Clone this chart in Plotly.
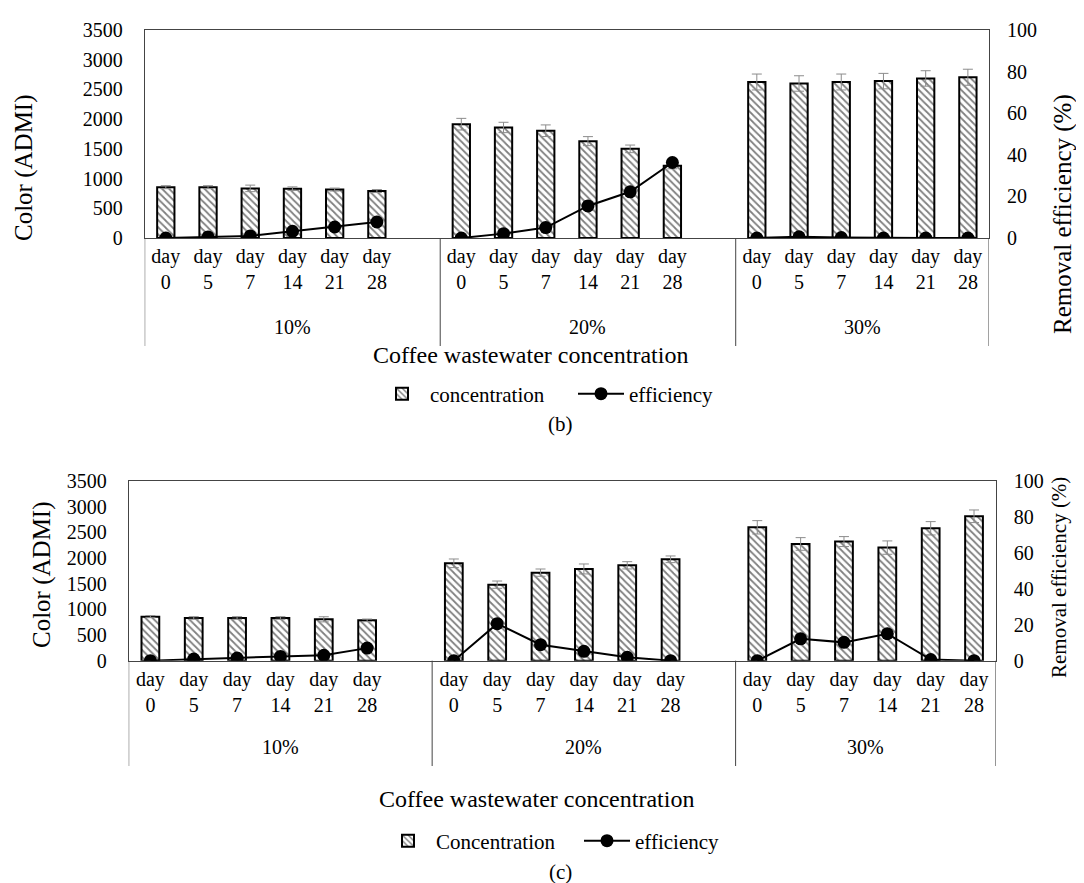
import plotly.graph_objects as go

W, H = 1084, 883
FONT = "Liberation Serif, Times New Roman, DejaVu Serif, serif"

groups = ["10%", "20%", "30%"]
days = ["0", "5", "7", "14", "21", "28"]

# ---- panel (b) ----
conc_b_10 = [855, 855, 835, 830, 815, 790]
conc_b_20 = [1915, 1860, 1805, 1630, 1500, 1215]
conc_b_30 = [2625, 2600, 2625, 2640, 2685, 2705]
err_b_10 = [25, 25, 55, 30, 25, 25]
err_b_20 = [98, 87, 98, 76, 64, 50]
err_b_30 = [134, 130, 134, 130, 130, 135]
eff_b_10 = [0, 0.5, 1.0, 3.2, 5.3, 7.7]
eff_b_20 = [0, 2.1, 5.0, 15.4, 22.2, 36.3]
eff_b_30 = [0, 0.6, 0.2, 0, 0, 0]

# ---- panel (c) ----
conc_c_10 = [858, 832, 832, 832, 806, 786]
conc_c_20 = [1897, 1481, 1715, 1787, 1858, 1975]
conc_c_30 = [2598, 2274, 2320, 2203, 2579, 2813]
err_c_10 = [20, 25, 25, 25, 50, 25]
err_c_20 = [84, 71, 71, 97, 71, 65]
err_c_30 = [130, 123, 97, 130, 130, 123]
eff_c_10 = [0, 0.9, 1.5, 2.4, 3.0, 7.0]
eff_c_20 = [0, 20.6, 8.9, 5.2, 1.9, 0]
eff_c_30 = [0, 12.2, 10.2, 15.0, 0.6, 0]

y_ticks_left = [0, 500, 1000, 1500, 2000, 2500, 3000, 3500]
y_ticks_right = [0, 20, 40, 60, 80, 100]


def px_x(p):
    return p / W


def px_y(p):
    return 1 - p / H


fig = go.Figure()

slot = len(days) + 1  # each group followed by one empty category (except last)

xs = [g * slot + i for g in range(len(groups)) for i in range(len(days))]
n_slots = (len(groups) - 1) * slot + len(days)
ticktext = ["day<br>" + d for d in days] * len(groups)

panels = [
    dict(conc=[conc_b_10, conc_b_20, conc_b_30], err=[err_b_10, err_b_20, err_b_30],
         eff=[eff_b_10, eff_b_20, eff_b_30], names=("concentration", "efficiency"),
         xa="x", ya="y", ya2="y2", leg="legend",
         xdom=(136.7, 981), ydom=(22, 230), div_bottom=338, grp_y=319,
         xtitle=(522, 347), ltitle=(16, 160, 25), rtitle=(1055, 206, 25),
         letter="(b)", letter_pos=(552, 416), legend_pos=(366, 386)),
    dict(conc=[conc_c_10, conc_c_20, conc_c_30], err=[err_c_10, err_c_20, err_c_30],
         eff=[eff_c_10, eff_c_20, eff_c_30], names=("Concentration", "efficiency"),
         xa="x2", ya="y3", ya2="y4", leg="legend2",
         xdom=(120.7, 987.7), ydom=(473, 652.7), div_bottom=758, grp_y=739,
         xtitle=(528, 791), ltitle=(34, 567, 25), rtitle=(1051, 570, 21),
         letter="(c)", letter_pos=(552, 864), legend_pos=(372, 833)),
]

annotations = []
shapes = []

for k, p in enumerate(panels):
    conc = [v for g in p["conc"] for v in g]
    err = [v for g in p["err"] for v in g]
    # efficiency line broken between groups
    lx, ly = [], []
    for g in range(len(groups)):
        for i in range(len(days)):
            lx.append(g * slot + i)
            ly.append(p["eff"][g][i])
        if g < len(groups) - 1:
            lx.append(g * slot + len(days))
            ly.append(None)

    fig.add_trace(go.Bar(
        x=xs, y=conc, name=p["names"][0], xaxis=p["xa"], yaxis=p["ya"],
        width=0.41, legend=p["leg"],
        marker=dict(color="white", line=dict(color="black", width=2),
                    pattern=dict(shape="\\", fgcolor="black", bgcolor="white",
                                 size=5, solidity=0.35)),
        error_y=dict(type="data", array=err, symmetric=True, color="#8c8c8c",
                     thickness=1, width=5),
    ))
    fig.add_trace(go.Scatter(
        x=lx, y=ly, name=p["names"][1], xaxis=p["xa"], yaxis=p["ya2"],
        mode="lines+markers", connectgaps=False, legend=p["leg"],
        line=dict(color="black", width=2),
        marker=dict(color="black", size=13, symbol="circle"),
    ))

    xd = [px_x(p["xdom"][0]), px_x(p["xdom"][1])]
    yd = [px_y(p["ydom"][1]), px_y(p["ydom"][0])]
    xa_name = "xaxis" if p["xa"] == "x" else "xaxis" + p["xa"][1:]
    ya_name = "yaxis" if p["ya"] == "y" else "yaxis" + p["ya"][1:]
    ya2_name = "yaxis" + p["ya2"][1:]

    fig.update_layout(**{
        xa_name: dict(domain=xd, anchor=p["ya"], range=[-0.5, n_slots - 0.5],
                      tickmode="array", tickvals=xs, ticktext=ticktext,
                      showgrid=False, zeroline=False, showline=True,
                      linecolor="#444444", linewidth=1, mirror=True, ticks="",
                      tickfont=dict(family=FONT, size=20, color="black"),
                      automargin=False, fixedrange=True),
        ya_name: dict(domain=yd, anchor=p["xa"], range=[0, 3500],
                      tickmode="array", tickvals=y_ticks_left,
                      showgrid=False, zeroline=False, showline=True,
                      linecolor="#444444", linewidth=1, mirror=True, ticks="",
                      ticklabelstandoff=17,
                      tickfont=dict(family=FONT, size=20, color="black"),
                      automargin=False, fixedrange=True),
        ya2_name: dict(domain=yd, anchor=p["xa"], overlaying=p["ya"], side="right",
                       range=[0, 100], tickmode="array", tickvals=y_ticks_right,
                       showgrid=False, zeroline=False, showline=False, ticks="",
                       ticklabelstandoff=17,
                       tickfont=dict(family=FONT, size=20, color="black"),
                       automargin=False, fixedrange=True),
    })

    # group dividers extending below the axis
    bounds = [-0.5] + [g * slot + len(days) + 0.5 for g in range(len(groups) - 1)] + [n_slots - 0.5]
    for b in bounds:
        shapes.append(dict(type="line", xref=p["xa"], yref="paper", x0=b, x1=b,
                           y0=px_y(p["ydom"][1]), y1=px_y(p["div_bottom"]),
                           line=dict(color="#444444", width=1)))
    for g, name in enumerate(groups):
        cx = (bounds[g] + bounds[g + 1]) / 2
        annotations.append(dict(x=cx, y=px_y(p["grp_y"]), xref=p["xa"], yref="paper",
                                text=name, showarrow=False, yanchor="middle",
                                font=dict(family=FONT, size=20, color="black")))

    annotations.append(dict(x=px_x(p["xtitle"][0]), y=px_y(p["xtitle"][1]), xref="paper",
                            yref="paper", text="Coffee wastewater concentration",
                            showarrow=False, yanchor="middle",
                            font=dict(family=FONT, size=24, color="black")))
    annotations.append(dict(x=px_x(p["ltitle"][0]), y=px_y(p["ltitle"][1]), xref="paper",
                            yref="paper", text="Color (ADMI)", textangle=-90,
                            showarrow=False, xanchor="center", yanchor="middle",
                            font=dict(family=FONT, size=p["ltitle"][2], color="black")))
    annotations.append(dict(x=px_x(p["rtitle"][0]), y=px_y(p["rtitle"][1]), xref="paper",
                            yref="paper", text="Removal efficiency (%)", textangle=-90,
                            showarrow=False, xanchor="center", yanchor="middle",
                            font=dict(family=FONT, size=p["rtitle"][2], color="black")))
    annotations.append(dict(x=px_x(p["letter_pos"][0]), y=px_y(p["letter_pos"][1]),
                            xref="paper", yref="paper", text=p["letter"],
                            showarrow=False, yanchor="middle",
                            font=dict(family=FONT, size=21, color="black")))

    fig.update_layout(**{p["leg"]: dict(
        orientation="h", x=px_x(p["legend_pos"][0]), y=px_y(p["legend_pos"][1]),
        xanchor="left", yanchor="middle", bgcolor="rgba(0,0,0,0)",
        font=dict(family=FONT, size=21, color="black"), itemwidth=46,
        entrywidth=138, entrywidthmode="pixels",
        traceorder="normal")})

fig.update_layout(
    width=W, height=H, margin=dict(l=0, r=0, t=0, b=0),
    paper_bgcolor="white", plot_bgcolor="white",
    font=dict(family=FONT, color="black"),
    showlegend=True, annotations=annotations, shapes=shapes,
)

fig.write_html("out.html")
